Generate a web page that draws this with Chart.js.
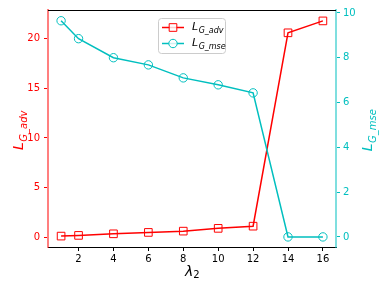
<!DOCTYPE html>
<html>
<head>
<meta charset="utf-8">
<script src="https://cdn.jsdelivr.net/npm/chart.js"></script>
<style>
  body { margin: 0; background: #fff; }
  #wrap { width: 384px; height: 288px; }
</style>
</head>
<body>
<div id="wrap"><canvas id="lossChart"></canvas></div>
<script>
const lambdas = [1, 2, 4, 6, 8, 10, 12, 14, 16];
const advLoss = [0.1, 0.17, 0.33, 0.47, 0.6, 0.88, 1.1, 20.6, 21.8];
const mseLoss = [9.65, 8.85, 8.0, 7.68, 7.1, 6.79, 6.43, 0.0, 0.0];
const xTicks = [2, 4, 6, 8, 10, 12, 14, 16];
const advTicks = [0, 5, 10, 15, 20];
const mseTicks = [0, 2, 4, 6, 8, 10];

const RED = "#ff0000";
const CYAN = "#00bfbf";
const FONT = "DejaVu Sans";

function pts(ys) {
  return lambdas.map((x, i) => ({ x: x, y: ys[i] }));
}

function fixTicks(list) {
  return function (scale) {
    scale.ticks = list.map(v => ({ value: v }));
  };
}

// L with a subscript; x is the centre, or the left edge when left is true
function subLabel(ctx, x, y, sub, size, color, left) {
  ctx.save();
  ctx.fillStyle = color;
  ctx.textBaseline = "alphabetic";
  ctx.textAlign = "left";
  const subSize = Math.round(size * 0.7);
  ctx.font = "italic " + size + "px " + FONT;
  const wMain = ctx.measureText("L").width;
  ctx.font = "italic " + subSize + "px " + FONT;
  const wSub = ctx.measureText(sub).width;
  const x0 = left ? x : x - (wMain + wSub) / 2;
  const base = y + size * 0.3;
  ctx.font = "italic " + size + "px " + FONT;
  ctx.fillText("L", x0, base);
  ctx.font = "italic " + subSize + "px " + FONT;
  ctx.fillText(sub, x0 + wMain + 0.5, base + size * 0.28);
  ctx.restore();
}

const decor = {
  id: "decor",
  afterDraw(chart) {
    const ctx = chart.ctx;
    const a = chart.chartArea;
    // top spine
    ctx.save();
    ctx.strokeStyle = "#000";
    ctx.lineWidth = 1;
    ctx.beginPath();
    ctx.moveTo(a.left, a.top + 0.5);
    ctx.lineTo(a.right, a.top + 0.5);
    ctx.stroke();
    ctx.restore();

    const cy = (a.top + a.bottom) / 2 + 2;
    ctx.save();
    ctx.translate(19, cy);
    ctx.rotate(-Math.PI / 2);
    subLabel(ctx, 0, 0, "G_adv", 14, RED);
    ctx.restore();

    ctx.save();
    ctx.translate(368, cy);
    ctx.rotate(-Math.PI / 2);
    subLabel(ctx, 0, 0, "G_mse", 14, CYAN);
    ctx.restore();

    // x title
    ctx.save();
    ctx.fillStyle = "#000";
    ctx.textAlign = "left";
    ctx.font = "italic 14px " + FONT;
    const cx = (a.left + a.right) / 2;
    const wl = ctx.measureText("λ").width;
    ctx.fillText("λ", cx - 7, 276);
    ctx.font = "10px " + FONT;
    ctx.fillText("2", cx - 7 + wl, 278);
    ctx.restore();

    // legend
    ctx.save();
    ctx.fillStyle = "rgba(255,255,255,0.8)";
    ctx.strokeStyle = "#cccccc";
    ctx.lineWidth = 1;
    ctx.beginPath();
    ctx.roundRect(158.5, 18.5, 67, 35, 3);
    ctx.fill();
    ctx.stroke();
    const rows = [
      { y: 27.5, color: RED, style: "rect", r: 5.4, sub: "G_adv" },
      { y: 43.5, color: CYAN, style: "circle", r: 4.2, sub: "G_mse" }
    ];
    rows.forEach(row => {
      ctx.strokeStyle = row.color;
      ctx.lineWidth = 1.5;
      ctx.beginPath();
      ctx.moveTo(162, row.y);
      ctx.lineTo(184, row.y);
      ctx.stroke();
      ctx.lineWidth = 1;
      Chart.helpers.drawPoint(ctx, {
        pointStyle: row.style, radius: row.r, borderWidth: 1,
        rotation: 0
      }, 173, row.y);
      subLabel(ctx, 192, row.y - 1, row.sub, 11, "#000", true);
    });
    ctx.restore();
  }
};

new Chart(document.getElementById("lossChart"), {
  type: "line",
  data: {
    datasets: [{
      label: "L_G_adv",
      data: pts(advLoss),
      yAxisID: "yAdv",
      borderColor: RED,
      borderWidth: 1.5,
      pointStyle: "rect",
      pointRadius: 5.4,
      pointBorderWidth: 1,
      pointBorderColor: RED,
      pointBackgroundColor: "rgba(0,0,0,0)",
      tension: 0,
      order: 2
    }, {
      label: "L_G_mse",
      data: pts(mseLoss),
      yAxisID: "yMse",
      borderColor: CYAN,
      borderWidth: 1.5,
      pointStyle: "circle",
      pointRadius: 4.2,
      pointBorderWidth: 1,
      pointBorderColor: CYAN,
      pointBackgroundColor: "rgba(0,0,0,0)",
      tension: 0,
      order: 1
    }]
  },
  options: {
    responsive: true,
    maintainAspectRatio: false,
    animation: false,
    devicePixelRatio: 1,
    layout: { padding: { top: 10, left: 0, right: 0, bottom: 0 }, autoPadding: false },
    plugins: {
      legend: { display: false },
      tooltip: { enabled: false }
    },
    scales: {
      x: {
        type: "linear",
        min: 0.25,
        max: 16.75,
        afterBuildTicks: fixTicks(xTicks),
        afterFit(s) { s.height = 41; },
        grid: { display: true, drawOnChartArea: false, drawTicks: true, tickLength: 4, tickColor: "#000" },
        border: { display: true, color: "#000", width: 1 },
        ticks: { color: "#000", padding: 2, font: { family: FONT, size: 10 }, maxRotation: 0 }
      },
      yAdv: {
        type: "linear",
        position: "left",
        min: -1.0,
        max: 22.9,
        afterBuildTicks: fixTicks(advTicks),
        afterFit(s) { s.width = 48; },
        grid: { display: true, drawOnChartArea: false, drawTicks: true, tickLength: 4, tickColor: RED },
        border: { display: true, color: "rgba(255,0,0,0.5)", width: 2 },
        ticks: { color: RED, padding: 4, font: { family: FONT, size: 10 } }
      },
      yMse: {
        type: "linear",
        position: "right",
        min: -0.45,
        max: 10.13,
        afterBuildTicks: fixTicks(mseTicks),
        afterFit(s) { s.width = 48; },
        grid: { display: true, drawOnChartArea: false, drawTicks: true, tickLength: 4, tickColor: CYAN },
        border: { display: true, color: "rgba(0,191,191,0.5)", width: 2 },
        ticks: { color: CYAN, padding: 3, font: { family: FONT, size: 10 } }
      }
    }
  },
  plugins: [decor]
});
</script>
</body>
</html>
